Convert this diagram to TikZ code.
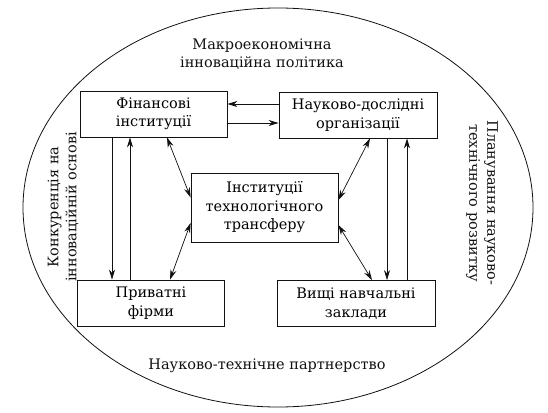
\documentclass[tikz,border=0pt]{standalone}
\usepackage{fontspec}
\setmainfont{DejaVu Serif}
\usepackage{tikz}
\usetikzlibrary{arrows.meta,positioning}
\definecolor{inkblack}{HTML}{111111}
\tikzset{
  instbox/.style={
    draw=inkblack,
    line width=0.8pt,
    align=center,
    minimum width=147pt,
    minimum height=46pt,
    inner sep=2pt,
    font=\fontsize{14.5}{18.5}\selectfont
  },
  widebox/.style={
    instbox,
    minimum width=158pt
  },
  fieldlabel/.style={
    align=center,
    text=inkblack,
    font=\fontsize{14.5}{18}\selectfont
  },
  flowarrow/.style={
    -{Stealth[length=10pt,width=6pt]},
    line width=0.7pt,
    draw=inkblack
  },
  linkarrow/.style={
    {Stealth[length=10pt,width=6pt]}-{Stealth[length=10pt,width=6pt]},
    line width=0.7pt,
    draw=inkblack
  }
}

\begin{document}
\begin{tikzpicture}[x=1pt,y=-1pt]
    \useasboundingbox (0,0) rectangle (548,412);

    % environment
    \draw[inkblack, line width=0.8pt] (278,207.5) ellipse [x radius=255, y radius=199.5];

    \node[instbox] (fin) at (153.5,114) {Фінансові\\інституції};
    \node[widebox] (ndo) at (358,115) {Науково-дослідні\\організації};
    \node[instbox, minimum height=69pt] (itt) at (264.5,207.5)
        {Інституції\\технологічного\\трансферу};
    \node[instbox] (pf) at (151,303) {Приватні\\фірми};
    \node[widebox] (vnz) at (356,303.5) {Вищі навчальні\\заклади};

    \node[fieldlabel] (macro) at (262,54) {Макроекономічна\\інноваційна політика};
    \node[fieldlabel] (partner) at (267,366) {Науково-технічне партнерство};
    \node[fieldlabel, rotate=90] (konk) at (63,207) {Конкуренція на\\інноваційній основі};
    \node[fieldlabel, rotate=-90] (plan) at (482,203) {Планування науково-\\технічного розвитку};

    % top pair
    \draw[flowarrow] ([yshift=11pt]ndo.west) -- ([yshift=11pt]ndo.west -| fin.east);
    \draw[flowarrow] ([yshift=-9pt]fin.east) -- ([yshift=-9pt]fin.east -| ndo.west);

    % left column
    \draw[flowarrow] ([xshift=-41.5pt]fin.south) -- ([xshift=-41.5pt]fin.south |- pf.north);
    \draw[flowarrow] ([xshift=-21pt]pf.north) -- ([xshift=-21pt]pf.north |- fin.south);

    % right column
    \draw[flowarrow] ([xshift=29pt]ndo.south) -- ([xshift=29pt]ndo.south |- vnz.north);
    \draw[flowarrow] ([xshift=51pt]vnz.north) -- ([xshift=51pt]vnz.north |- ndo.south);

    % transfer links
    \draw[linkarrow] ([xshift=13.5pt]fin.south) -- ([yshift=10pt]itt.west);
    \draw[linkarrow] ([yshift=-15.5pt]itt.west) -- ([xshift=19pt]pf.north);
    \draw[linkarrow] ([xshift=12pt]ndo.south) -- ([yshift=7.5pt]itt.east);
    \draw[linkarrow] ([yshift=-17.5pt]itt.east) -- ([xshift=16pt]vnz.north);
\end{tikzpicture}
\end{document}
